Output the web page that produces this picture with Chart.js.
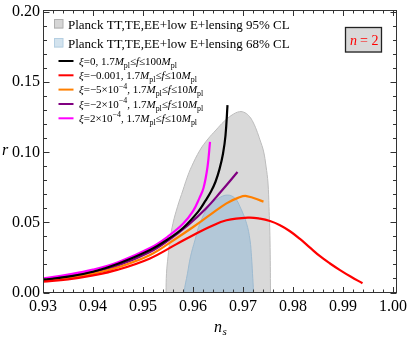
<!DOCTYPE html>
<html>
<head>
<meta charset="utf-8">
<script src="https://cdn.jsdelivr.net/npm/chart.js@4.4.1/dist/chart.umd.min.js"></script>
<style>
html,body{margin:0;padding:0;background:#fff;}
#c{display:block;}
</style>
</head>
<body>
<canvas id="c" width="407" height="338"></canvas>
<script>
// ---- tick labels ----
const xTickValues = [0.93, 0.94, 0.95, 0.96, 0.97, 0.98, 0.99, 1.00];
const yTickValues = [0.00, 0.05, 0.10, 0.15, 0.20];

// ---- Planck contours (n_s, r) ----
const cl95Ns = [0.9546, 0.9546, 0.9547, 0.9550, 0.9554, 0.9560, 0.9569, 0.9580, 0.9588, 0.9597, 0.9614, 0.9630, 0.9646, 0.9662, 0.9678, 0.9693, 0.9704, 0.9713, 0.9720, 0.9727, 0.9734, 0.9741, 0.9746, 0.9750, 0.9752, 0.9754, 0.9755, 0.9755];
const cl95R  = [-0.006, 0.0000, 0.0137, 0.0255, 0.0374, 0.0494, 0.0612, 0.0731, 0.0817, 0.0897, 0.1016, 0.1095, 0.1159, 0.1220, 0.1266, 0.1290, 0.1282, 0.1255, 0.1216, 0.1159, 0.1088, 0.1009, 0.0902, 0.0781, 0.0612, 0.0374, 0.0000, -0.006];
const cl68Ns = [0.9582, 0.9582, 0.9589, 0.9595, 0.9604, 0.9614, 0.9631, 0.9651, 0.9669, 0.9684, 0.9694, 0.9707, 0.9714, 0.9717, 0.9719, 0.9721, 0.9721];
const cl68R  = [-0.006, 0.0000, 0.0137, 0.0255, 0.0374, 0.0494, 0.0612, 0.0672, 0.0695, 0.0672, 0.0612, 0.0494, 0.0374, 0.0255, 0.0137, 0.0000, -0.006];

// ---- model curves ----
const blackNs = [0.930, 0.935, 0.940, 0.945, 0.9514, 0.955, 0.958, 0.961, 0.9625, 0.9636, 0.9645, 0.9653, 0.9660, 0.9665, 0.9669];
const blackR  = [0.0089, 0.0113, 0.0148, 0.0205, 0.0303, 0.0380, 0.0460, 0.0575, 0.0655, 0.0720, 0.0790, 0.0880, 0.0990, 0.1120, 0.1336];
const redNs = [0.930, 0.935, 0.940, 0.945, 0.9514, 0.9567, 0.9601, 0.9634, 0.9667, 0.9711, 0.9734, 0.9754, 0.9774, 0.9794, 0.9814, 0.9834, 0.9854, 0.9874, 0.9894, 0.9916, 0.9939];
const redR  = [0.0077, 0.0094, 0.0122, 0.0163, 0.0243, 0.0345, 0.0410, 0.0469, 0.0515, 0.0534, 0.0527, 0.0510, 0.0480, 0.0437, 0.0382, 0.0320, 0.0259, 0.0207, 0.0160, 0.0112, 0.0066];
const orangeNs = [0.930, 0.935, 0.940, 0.945, 0.9514, 0.9567, 0.9601, 0.9634, 0.9667, 0.9690, 0.9707, 0.9741];
const orangeR  = [0.0083, 0.0105, 0.0135, 0.0180, 0.0267, 0.0387, 0.0469, 0.0553, 0.0636, 0.0675, 0.0688, 0.0648];
const purpleNs = [0.930, 0.935, 0.940, 0.945, 0.9514, 0.955, 0.959, 0.9625, 0.9656, 0.9689];
const purpleR  = [0.0088, 0.0112, 0.0145, 0.0192, 0.0289, 0.0370, 0.0480, 0.0595, 0.0720, 0.0859];
const magentaNs = [0.930, 0.935, 0.940, 0.945, 0.9514, 0.955, 0.958, 0.9600, 0.9613, 0.9621, 0.9629, 0.9634];
const magentaR  = [0.0100, 0.0127, 0.0163, 0.0216, 0.0317, 0.0400, 0.0490, 0.0580, 0.0675, 0.0745, 0.0895, 0.1074];

const seriesLabels = [
  'ξ=0, 1.7M_{pl}≤f≤100M_{pl}',
  'ξ=−0.001, 1.7M_{pl}≤f≤10M_{pl}',
  'ξ=−5×10^{−4}, 1.7M_{pl}≤f≤10M_{pl}',
  'ξ=−2×10^{−4}, 1.7M_{pl}≤f≤10M_{pl}',
  'ξ=2×10^{−4}, 1.7M_{pl}≤f≤10M_{pl}'
];
const seriesColors = ['#000000', '#ff0000', '#ff8000', '#800080', '#ff00ff'];
const clLabels = ['Planck TT,TE,EE+low E+lensing 95% CL', 'Planck TT,TE,EE+low E+lensing 68% CL'];

const pts = (xs, ys) => xs.map((v, i) => ({x: v, y: ys[i]}));
const SERIF = '"Liberation Serif", "Times New Roman", serif';

function curve(xs, ys, color, order) {
  return {data: pts(xs, ys), showLine: true, borderColor: color, borderWidth: 2.2,
    pointRadius: 0, tension: 0.4, fill: false, order: order};
}

const datasets = [
  {data: pts(cl95Ns, cl95R), showLine: true, borderColor: '#bdbdbd', borderWidth: 1,
   backgroundColor: '#d9d9d9', fill: 'shape', pointRadius: 0, tension: 0.4, order: 20},
  {data: pts(cl68Ns, cl68R), showLine: true, borderColor: '#9dbad0', borderWidth: 1,
   backgroundColor: '#b3c8d8', fill: 'shape', pointRadius: 0, tension: 0.4, order: 19},
  curve(magentaNs, magentaR, seriesColors[4], 5),
  curve(purpleNs, purpleR, seriesColors[3], 4),
  curve(orangeNs, orangeR, seriesColors[2], 3),
  curve(blackNs, blackR, seriesColors[0], 2),
  curve(redNs, redR, seriesColors[1], 1)
];

function drawRich(ctx, str, x, y, size) {
  const italicChars = 'ξMf';
  let i = 0;
  const segs = [];
  while (i < str.length) {
    const c = str[i];
    if ((c === '_' || c === '^') && str[i + 1] === '{') {
      const end = str.indexOf('}', i);
      segs.push({t: str.slice(i + 2, end), mode: c === '_' ? 'sub' : 'sup'});
      i = end + 1;
    } else {
      segs.push({t: c, mode: italicChars.includes(c) ? 'it' : 'rm'});
      i++;
    }
  }
  ctx.textBaseline = 'alphabetic';
  ctx.textAlign = 'left';
  for (const s of segs) {
    let dy = 0;
    if (s.mode === 'it') ctx.font = 'italic ' + size + 'px ' + SERIF;
    else if (s.mode === 'rm') ctx.font = size + 'px ' + SERIF;
    else { ctx.font = (size * 0.72) + 'px ' + SERIF; dy = s.mode === 'sub' ? size * 0.25 : -size * 0.42; }
    ctx.fillText(s.t, x, y + dy);
    x += ctx.measureText(s.t).width;
  }
}

const decorPlugin = {
  id: 'decor',
  afterDraw(chart) {
    const ctx = chart.ctx, a = chart.chartArea, xs = chart.scales.x, ys = chart.scales.y;
    ctx.save();
    // frame
    ctx.strokeStyle = '#333';
    ctx.lineWidth = 1;
    const L = Math.round(a.left) + 0.5, R = Math.round(a.right) - 0.5;
    const T = Math.round(a.top) + 0.5, B = Math.round(a.bottom) - 0.5;
    ctx.strokeRect(L, T, R - L, B - T);
    ctx.beginPath();
    // x ticks
    for (let k = 0; k <= 35; k++) {
      const v = 0.93 + k * 0.002;
      const major = k % 5 === 0;
      const len = major ? 5.5 : 3;
      const px = Math.round(xs.getPixelForValue(v)) + 0.5;
      ctx.moveTo(px, B); ctx.lineTo(px, B - len);
      ctx.moveTo(px, T); ctx.lineTo(px, T + len);
    }
    // y ticks
    for (let k = 0; k <= 20; k++) {
      const v = k * 0.01;
      const major = k % 5 === 0;
      const len = major ? 6 : 3.5;
      const py = Math.round(ys.getPixelForValue(v)) + 0.5;
      ctx.moveTo(L, py); ctx.lineTo(L + len, py);
      ctx.moveTo(R, py); ctx.lineTo(R - len, py);
    }
    ctx.stroke();

    // axis titles
    ctx.fillStyle = '#000';
    ctx.textBaseline = 'alphabetic';
    ctx.textAlign = 'left';
    ctx.font = 'italic 16px ' + SERIF;
    ctx.fillText('r', 2, 155);
    ctx.fillText('n', 214, 332);
    const nw = ctx.measureText('n').width;
    ctx.font = 'italic 11px ' + SERIF;
    ctx.fillText('s', 214 + nw + 0.5, 335);

    // legend: contour swatches
    ctx.font = '13px ' + SERIF;
    ctx.fillStyle = '#d6d6d6'; ctx.strokeStyle = '#b0b0b0';
    ctx.fillRect(54, 19.5, 9, 9); ctx.strokeRect(54.5, 19.5, 8.5, 8.5);
    ctx.fillStyle = '#d3e3ee'; ctx.strokeStyle = '#b5cfe2';
    ctx.fillRect(54, 38.5, 9, 9); ctx.strokeRect(54.5, 38.5, 8.5, 8.5);
    ctx.fillStyle = '#000';
    ctx.fillText(clLabels[0], 68, 28.5);
    ctx.fillText(clLabels[1], 68, 48);

    // legend: curves
    const ly = [61, 75.3, 89.6, 104, 118.3];
    [0, 1, 2, 3, 4].forEach((k, j) => {
      ctx.strokeStyle = seriesColors[k];
      ctx.lineWidth = 2;
      ctx.beginPath(); ctx.moveTo(58.5, ly[j]); ctx.lineTo(73.5, ly[j]); ctx.stroke();
      ctx.fillStyle = '#000';
      drawRich(ctx, seriesLabels[k], 79, ly[j] + 3.8, 11);
    });

    // n = 2 box
    ctx.fillStyle = '#d9d9d9';
    ctx.fillRect(345, 27, 37, 25.5);
    ctx.strokeStyle = '#222'; ctx.lineWidth = 1.3;
    ctx.strokeRect(345.5, 27.5, 36, 24.5);
    ctx.fillStyle = '#ff0000';
    ctx.font = 'italic 14px ' + SERIF;
    ctx.fillText('n', 350, 45);
    const w = ctx.measureText('n').width;
    ctx.font = '14px ' + SERIF;
    ctx.fillText('= 2', 350 + w + 3, 45);
    ctx.restore();
  }
};

new Chart(document.getElementById('c'), {
  type: 'scatter',
  data: {datasets: datasets},
  options: {
    responsive: false,
    animation: false,
    devicePixelRatio: 1,
    layout: {padding: {left: 0, right: 10, top: 10, bottom: 0}},
    plugins: {legend: {display: false}, tooltip: {enabled: false}},
    scales: {
      x: {
        type: 'linear', min: 0.93, max: 1.0008,
        grid: {display: false, drawTicks: false},
        border: {display: false},
        afterBuildTicks: s => { s.ticks = xTickValues.map(v => ({value: v})); },
        afterFit: s => { s.height = 45.5; s.paddingLeft = 0; s.paddingRight = 0; },
        ticks: {
          padding: 5, color: '#000', maxRotation: 0, autoSkip: false,
          font: {family: SERIF, size: 16},
          callback: v => Number(v).toFixed(2)
        }
      },
      y: {
        type: 'linear', min: 0, max: 0.2015,
        grid: {display: false, drawTicks: false},
        border: {display: false},
        afterBuildTicks: s => { s.ticks = yTickValues.map(v => ({value: v})); },
        afterFit: s => { s.width = 43; s.paddingTop = 0; s.paddingBottom = 0; },
        ticks: {
          padding: 3, color: '#000', autoSkip: false,
          font: {family: SERIF, size: 16},
          callback: v => Number(v).toFixed(2)
        }
      }
    }
  },
  plugins: [decorPlugin]
});
</script>
</body>
</html>
